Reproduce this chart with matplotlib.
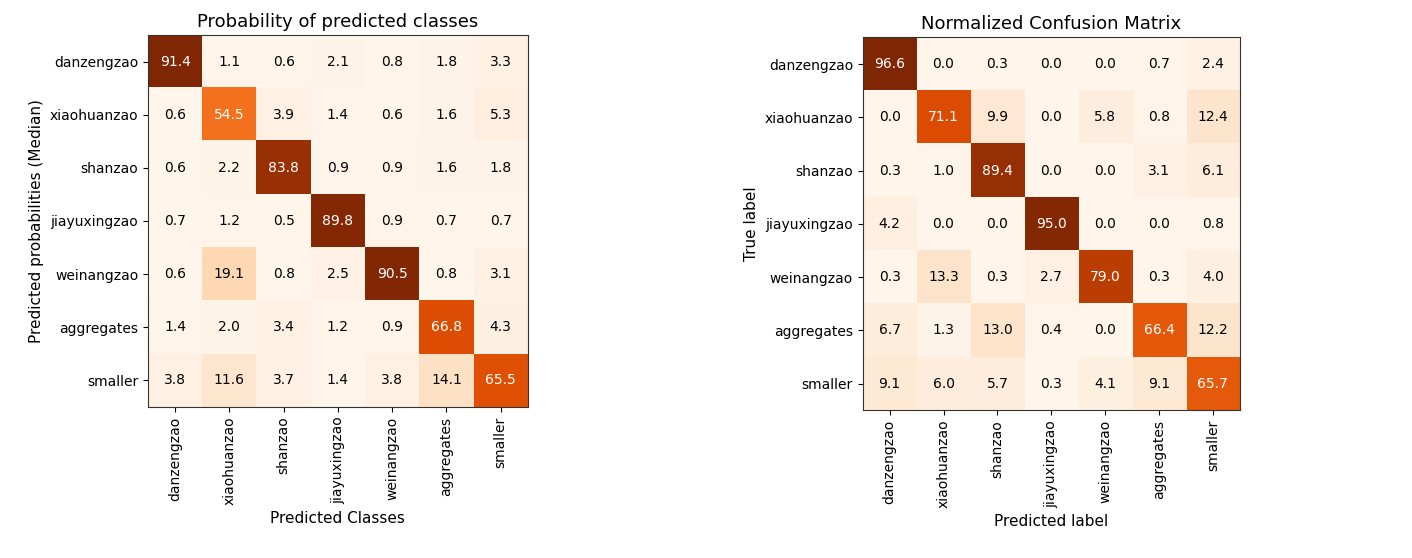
import matplotlib
matplotlib.use("Agg")
import matplotlib.pyplot as plt
import numpy as np

classes = ["danzengzao", "xiaohuanzao", "shanzao", "jiayuxingzao",
           "weinangzao", "aggregates", "smaller"]

# median predicted probabilities (%)
prob_median = [
    [91.4, 1.1, 0.6, 2.1, 0.8, 1.8, 3.3],
    [0.6, 54.5, 3.9, 1.4, 0.6, 1.6, 5.3],
    [0.6, 2.2, 83.8, 0.9, 0.9, 1.6, 1.8],
    [0.7, 1.2, 0.5, 89.8, 0.9, 0.7, 0.7],
    [0.6, 19.1, 0.8, 2.5, 90.5, 0.8, 3.1],
    [1.4, 2.0, 3.4, 1.2, 0.9, 66.8, 4.3],
    [3.8, 11.6, 3.7, 1.4, 3.8, 14.1, 65.5],
]

# normalized confusion matrix (%)
conf_norm = [
    [96.6, 0.0, 0.3, 0.0, 0.0, 0.7, 2.4],
    [0.0, 71.1, 9.9, 0.0, 5.8, 0.8, 12.4],
    [0.3, 1.0, 89.4, 0.0, 0.0, 3.1, 6.1],
    [4.2, 0.0, 0.0, 95.0, 0.0, 0.0, 0.8],
    [0.3, 13.3, 0.3, 2.7, 79.0, 0.3, 4.0],
    [6.7, 1.3, 13.0, 0.4, 0.0, 66.4, 12.2],
    [9.1, 6.0, 5.7, 0.3, 4.1, 9.1, 65.7],
]


def plot_matrix(ax, data, title, xlabel, ylabel):
    cm = np.array(data)
    ax.imshow(cm, interpolation="nearest", cmap=plt.cm.Oranges, aspect="auto")
    ax.set_title(title, fontsize=13)
    ticks = np.arange(len(classes))
    ax.set_xticks(ticks)
    ax.set_xticklabels(classes, rotation=90, fontsize=10)
    ax.set_yticks(ticks)
    ax.set_yticklabels(classes, fontsize=10)
    thresh = cm.max() / 2.0
    for i in range(cm.shape[0]):
        for j in range(cm.shape[1]):
            ax.text(j, i, "%.1f" % cm[i, j], ha="center", va="center",
                    fontsize=10,
                    color="white" if cm[i, j] > thresh else "black")
    ax.set_xlabel(xlabel, fontsize=11)
    ax.set_ylabel(ylabel, fontsize=11)
    for s in ax.spines.values():
        s.set_color("#333333")


fig = plt.figure(figsize=(14.12, 5.58), dpi=100)
ax1 = fig.add_axes([0.1048, 0.2706, 0.269, 0.6667])
ax2 = fig.add_axes([0.611, 0.265, 0.267, 0.668])

plot_matrix(ax1, prob_median, "Probability of predicted classes",
            "Predicted Classes", "Predicted probabilities (Median)")
plot_matrix(ax2, conf_norm, "Normalized Confusion Matrix",
            "Predicted label", "True label")

fig.savefig("out.png", dpi=100)
